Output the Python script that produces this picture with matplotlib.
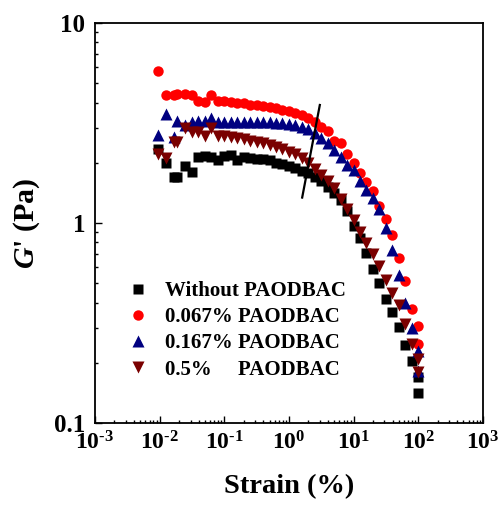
import numpy as np
import matplotlib
matplotlib.use("Agg")
import matplotlib.pyplot as plt
from matplotlib.ticker import LogLocator, FixedLocator, NullFormatter

plt.rcParams['font.family'] = ['Liberation Serif', 'DejaVu Serif']
plt.rcParams['font.weight'] = 'bold'
plt.rcParams['mathtext.fontset'] = 'custom'
plt.rcParams['mathtext.rm'] = 'Liberation Serif:bold'
plt.rcParams['mathtext.bf'] = 'Liberation Serif:bold'
plt.rcParams['mathtext.it'] = 'Liberation Serif:italic:bold'

# strain sweep (%)
strain = [0.0093, 0.0126, 0.0166, 0.0188, 0.0251, 0.0316, 0.0398, 0.0501, 0.0631, 0.0794,
          0.1, 0.126, 0.158, 0.2, 0.251, 0.316, 0.398, 0.501, 0.631, 0.794,
          1.0, 1.26, 1.58, 2.0, 2.51, 3.16, 3.98, 5.01, 6.31, 7.94,
          10, 12.6, 15.8, 20, 25.1, 31.6, 39.8, 50.1, 63.1, 79.4, 100, 100]

g_without = [2.35, 1.99, 1.69, 1.69, 1.93, 1.80, 2.14, 2.16, 2.13, 2.06,
             2.15, 2.18, 2.06, 2.14, 2.12, 2.10, 2.08, 2.06, 2.00, 1.97,
             1.92, 1.88, 1.81, 1.77, 1.69, 1.62, 1.51, 1.41, 1.30, 1.15,
             0.97, 0.84, 0.71, 0.59, 0.50, 0.416, 0.357, 0.301, 0.246, 0.204,
             0.169, 0.141]

g_0067 = [5.77, 4.38, 4.38, 4.41, 4.44, 4.35, 4.09, 4.03, 4.38, 4.07,
          4.07, 4.03, 3.99, 3.96, 3.91, 3.88, 3.86, 3.82, 3.76, 3.69,
          3.62, 3.55, 3.48, 3.36, 3.21, 3.03, 2.88, 2.57, 2.50, 2.22,
          2.00, 1.77, 1.60, 1.45, 1.22, 1.05, 0.87, 0.67, 0.51, 0.37,
          0.306, 0.247]

g_0167 = [2.74, 3.52, 2.69, 3.24, 3.09, 3.19, 3.24, 3.24, 3.34, 3.21,
          3.19, 3.19, 3.19, 3.19, 3.19, 3.19, 3.19, 3.19, 3.17, 3.15,
          3.12, 3.08, 3.02, 2.94, 2.83, 2.67, 2.52, 2.33, 2.14, 1.96,
          1.83, 1.63, 1.47, 1.33, 1.17, 0.94, 0.73, 0.55, 0.40, 0.30,
          0.229, 0.182]

g_05 = [2.21, 2.12, 2.54, 2.54, 3.00, 2.85, 2.85, 2.71, 2.97, 2.71,
        2.71, 2.68, 2.65, 2.62, 2.57, 2.55, 2.52, 2.45, 2.39, 2.34,
        2.27, 2.21, 2.11, 2.00, 1.86, 1.74, 1.63, 1.50, 1.32, 1.17,
        1.03, 0.90, 0.79, 0.70, 0.61, 0.52, 0.447, 0.391, 0.313, 0.249,
        0.210, 0.180]

# black guide line across the onset of the nonlinear region
guide_x = [1.6, 3.0]
guide_y = [1.34, 3.89]

fig = plt.figure(figsize=(5.01, 5.05), dpi=100)
ax = fig.add_axes([0.1896, 0.1624, 0.7744, 0.7921])

ax.plot(strain, g_without, 's', color='black', ms=6.5, mec='none',
        label='Without PAODBAC')
ax.plot(strain, g_0067, 'o', color='#ff0000', ms=7.5, mec='none',
        label='0.067% PAODBAC')
ax.plot(strain, g_0167, '^', color='#000080', ms=8, mec='none',
        label='0.167% PAODBAC')
ax.plot(strain, g_05, 'v', color='#7a0000', ms=8, mec='none',
        label='0.5%     PAODBAC')
ax.plot(guide_x, guide_y, '-', color='black', lw=1.6)

ax.set_xscale('log')
ax.set_yscale('log')
ax.set_xlim(1e-3, 1e3)
ax.set_ylim(0.1, 10)

ax.xaxis.set_major_locator(FixedLocator([1e-3, 1e-2, 1e-1, 1, 10, 100, 1000]))
ax.xaxis.set_minor_locator(LogLocator(base=10, subs=np.arange(2, 10), numticks=20))
ax.set_xticklabels(['$10^{\u2010 3}$', '$10^{\u2010 2}$', '$10^{\u2010 1}$', '$10^{0}$',
                    '$10^{1}$', '$10^{2}$', '$10^{3}$'])
ax.xaxis.set_minor_formatter(NullFormatter())
ax.yaxis.set_major_locator(FixedLocator([0.1, 1, 10]))
ax.yaxis.set_minor_locator(LogLocator(base=10, subs=np.arange(2, 10), numticks=20))
ax.set_yticklabels(['0.1', '1', '10'])
ax.yaxis.set_minor_formatter(NullFormatter())

ax.tick_params(which='both', direction='in', top=False, right=False, width=1.0)
ax.tick_params(which='major', length=5)
ax.tick_params(which='minor', length=2.5)
ax.tick_params(axis='x', which='major', labelsize=17, pad=6)
ax.tick_params(axis='y', which='major', labelsize=18, pad=7)
for sp in ax.spines.values():
    sp.set_linewidth(1.3)

ax.set_xlabel('Strain (%)', fontsize=20.5, fontweight='bold', labelpad=14)
ax.set_ylabel("$G$' (Pa)", fontsize=21.5, fontweight='bold', labelpad=9)

ax.legend(loc='upper left', bbox_to_anchor=(0.09, 0.355), frameon=False,
          fontsize=15, handlelength=0.8, handletextpad=0.9, labelspacing=0.3,
          borderaxespad=0, borderpad=0, markerscale=1.0)

fig.savefig('out.png', dpi=100)
